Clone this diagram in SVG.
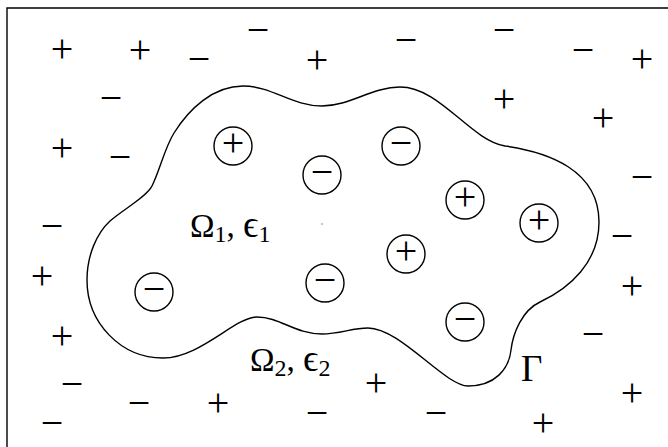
<svg xmlns="http://www.w3.org/2000/svg" width="668" height="447" viewBox="0 0 668 447">
<style>
.ch{font-family:"Liberation Serif","DejaVu Serif",serif;font-size:40px;text-anchor:middle;fill:#000}
.lb{font-family:"Liberation Serif","DejaVu Serif",serif;font-size:33px;fill:#000}
.sb{font-size:24px}
.ep{font-size:38px}
.ring{fill:none;stroke:#000;stroke-width:1.4}
.line{fill:none;stroke:#000;stroke-width:1.4}
</style>
<rect width="668" height="447" fill="#fff"/>
<g id="frame"><path class="line" d="M7,447 V8 H668"/></g>
<g id="boundary">
<path class="line" d="M243,86 C272,86 292,106 322,106 C350,106 372,87 400,87 C440,87 470,140 505,146 C548,152 599,170 599,222 C599,262 570,288 540,302 C522,310.5 513,333 511,350 C509,369 495,386 468,386 C445,386 400,328 368,328 C352,328 340,334 322,334 C295,334 280,317 257,317 C235,317 200,358 163,358 C121,358 87,323 87,280 C87,255 97,233 110,221 C124,209 146.6,196.7 152,186 C160,170 164.5,148.3 174,133 C188.8,109.2 213,86 243,86 Z"/>
</g>
<g id="inner-charges">
<g id="q1"><circle class="ring" cx="233" cy="146" r="19"/><text class="ch" x="233" y="156">+</text></g>
<g id="q2"><circle class="ring" cx="322" cy="175" r="19"/><text class="ch" x="322" y="185">−</text></g>
<g id="q3"><circle class="ring" cx="401" cy="146" r="19"/><text class="ch" x="401" y="156">−</text></g>
<g id="q4"><circle class="ring" cx="465" cy="200" r="19"/><text class="ch" x="465" y="210">+</text></g>
<g id="q5"><circle class="ring" cx="539" cy="223" r="19"/><text class="ch" x="539" y="233">+</text></g>
<g id="q6"><circle class="ring" cx="406" cy="254" r="19"/><text class="ch" x="406" y="264">+</text></g>
<g id="q7"><circle class="ring" cx="325" cy="283" r="19"/><text class="ch" x="325" y="293">−</text></g>
<g id="q8"><circle class="ring" cx="154" cy="292" r="19"/><text class="ch" x="154" y="302">−</text></g>
<g id="q9"><circle class="ring" cx="465" cy="322" r="19"/><text class="ch" x="465" y="332">−</text></g>
</g>
<g id="outer-charges">
<text class="ch" x="62" y="62">+</text>
<text class="ch" x="140" y="63">+</text>
<text class="ch" x="199" y="72">−</text>
<text class="ch" x="258" y="43">−</text>
<text class="ch" x="317" y="73">+</text>
<text class="ch" x="406" y="53">−</text>
<text class="ch" x="504" y="43">−</text>
<text class="ch" x="583" y="63">−</text>
<text class="ch" x="642" y="72">+</text>
<text class="ch" x="111" y="111">−</text>
<text class="ch" x="504" y="112">+</text>
<text class="ch" x="603" y="131">+</text>
<text class="ch" x="62" y="161">+</text>
<text class="ch" x="120" y="170">−</text>
<text class="ch" x="642" y="190">−</text>
<text class="ch" x="52" y="239">−</text>
<text class="ch" x="622" y="249">−</text>
<text class="ch" x="42" y="289">+</text>
<text class="ch" x="632" y="299">+</text>
<text class="ch" x="62" y="349">+</text>
<text class="ch" x="593" y="347">−</text>
<text class="ch" x="72" y="397">−</text>
<text class="ch" x="139" y="416">−</text>
<text class="ch" x="218" y="416">+</text>
<text class="ch" x="317" y="426">−</text>
<text class="ch" x="376" y="396">+</text>
<text class="ch" x="436" y="426">−</text>
<text class="ch" x="632" y="406">+</text>
<text class="ch" x="543" y="436">+</text>
<text class="ch" x="52" y="436">−</text>
</g>
<circle cx="322" cy="224" r="0.7" fill="#666"/>
<g id="labels">
<text class="lb" x="190" y="237">Ω<tspan class="sb" dy="5">1</tspan><tspan dy="-5">, </tspan><tspan class="ep">ϵ</tspan><tspan class="sb" dy="5">1</tspan></text>
<text class="lb" x="250" y="371">Ω<tspan class="sb" dy="5">2</tspan><tspan dy="-5">, </tspan><tspan class="ep">ϵ</tspan><tspan class="sb" dy="5">2</tspan></text>
<text class="lb" x="521" y="381" style="font-size:37px">Γ</text>
</g>
</svg>
